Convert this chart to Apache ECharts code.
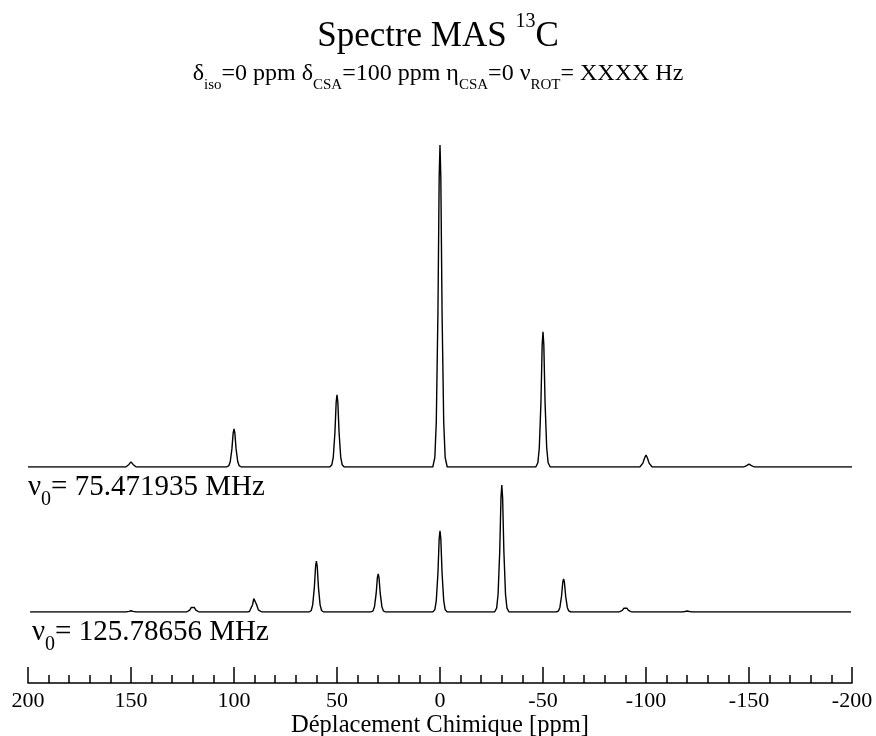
<!DOCTYPE html>
<html>
<head>
<meta charset="utf-8">
<script src="https://cdn.jsdelivr.net/npm/echarts@6/dist/echarts.min.js"></script>
<style>
  html, body { margin: 0; padding: 0; background: #fff; }
  #chart { width: 876px; height: 736px; }
</style>
</head>
<body>
<div id="chart"></div>
<script>
// spectrum at nu0 = 75.471935 MHz : [ppm, intensity %]
var topSpectrum = [
  [200, 0],
  [152.5, 0], [151, 0.8], [150, 1.6], [149, 0.8], [147.5, 0],
  [103.5, 0], [102.5, 0.4], [101.8, 1.7], [101, 5.7], [100.4, 10.6], [100, 11.8], [99.6, 10.6], [99, 5.7], [98.2, 1.7], [97.5, 0.4], [96.5, 0],
  [53.5, 0], [52.5, 0.7], [51.8, 3.1], [51, 10.8], [50.4, 20.2], [50, 22.4], [49.6, 20.2], [49, 10.8], [48.2, 3.1], [47.5, 0.7], [46.5, 0],
  [3.5, 0], [2.5, 3], [1.8, 14], [1, 48], [0.4, 90], [0, 100], [-0.4, 90], [-1, 48], [-1.8, 14], [-2.5, 3], [-3.5, 0],
  [-46.5, 0], [-47.5, 1.3], [-48.2, 5.9], [-49, 20], [-49.6, 38], [-50, 42], [-50.4, 38], [-51, 20], [-51.8, 5.9], [-52.5, 1.3], [-53.5, 0],
  [-97, 0], [-98.5, 1.2], [-99.3, 2.8], [-100, 3.7], [-100.7, 2.8], [-101.5, 1.2], [-103, 0],
  [-147.5, 0], [-149, 0.5], [-150, 0.9], [-151, 0.5], [-152.5, 0],
  [-200, 0]
];

// spectrum at nu0 = 125.78656 MHz
var bottomSpectrum = [
  [199, 0],
  [152.5, 0], [151, 0.5], [150, 1], [149, 0.5], [147.5, 0],
  [123, 0], [121.5, 1.5], [120.7, 3.6], [120, 4.7], [119.3, 3.6], [118.5, 1.5], [117, 0],
  [93.5, 0], [92.5, 0.4], [91.8, 1.7], [91, 5.7], [90.4, 10.6], [90, 11.8], [89.6, 10.6], [89, 5.7], [88.2, 1.7], [87.5, 0.4], [86.5, 0],
  [63.5, 0], [62.5, 1.2], [61.8, 5.6], [61, 19.2], [60.4, 36], [60, 40], [59.6, 36], [59, 19.2], [58.2, 5.6], [57.5, 1.2], [56.5, 0],
  [33.5, 0], [32.5, 0.9], [31.8, 4.2], [31, 14.4], [30.4, 27], [30, 30], [29.6, 27], [29, 14.4], [28.2, 4.2], [27.5, 0.9], [26.5, 0],
  [3.5, 0], [2.5, 1.9], [1.8, 9], [1, 30.7], [0.4, 57.6], [0, 64], [-0.4, 57.6], [-1, 30.7], [-1.8, 9], [-2.5, 1.9], [-3.5, 0],
  [-26.5, 0], [-27.5, 3], [-28.2, 14], [-29, 48], [-29.6, 90], [-30, 100], [-30.4, 90], [-31, 48], [-31.8, 14], [-32.5, 3], [-33.5, 0],
  [-56.5, 0], [-57.5, 0.8], [-58.2, 3.6], [-59, 12.5], [-59.6, 23.4], [-60, 26], [-60.4, 23.4], [-61, 12.5], [-61.8, 3.6], [-62.5, 0.8], [-63.5, 0],
  [-87, 0], [-88.5, 1.3], [-89.3, 3], [-90, 3.9], [-90.7, 3], [-91.5, 1.3], [-93, 0],
  [-117.5, 0], [-119, 0.4], [-120, 0.8], [-121, 0.4], [-122.5, 0],
  [-199.5, 0]
];

var xMin = -200;
var xMax = 200;
var tickStep = 50;

var serif = 'Liberation Serif';

function txt(size, lh, pad) {
  var s = { fontSize: size, fontFamily: serif, fontWeight: 'normal', color: '#000', lineHeight: lh };
  if (pad) s.padding = pad;
  return s;
}

var chartDom = document.getElementById('chart');
var myChart = echarts.init(chartDom);
var option;

option = {
  backgroundColor: '#fff',
  animation: false,
  title: [
    {
      text: '{m|Spectre MAS }{s|13}{m|C}',
      left: 'center',
      top: 17,
      padding: 0,
      textStyle: {
        fontWeight: 'normal',
        rich: { m: txt(35, 40), s: txt(20, 40, [0, 0, 30, 0]) }
      }
    },
    {
      text: '{m|δ}{s|iso}{m|=0 ppm δ}{s|CSA}{m|=100 ppm η}{s|CSA}{m|=0 ν}{s|ROT}{m|= XXXX Hz}',
      left: 'center',
      top: 59,
      padding: 0,
      textStyle: {
        fontWeight: 'normal',
        rich: { m: txt(24, 30), s: txt(15, 30, [23, 0, 0, 0]) }
      }
    },
    {
      text: '{m|ν}{s|0}{m|= 75.471935 MHz}',
      left: 28,
      top: 472,
      padding: 0,
      textStyle: {
        fontWeight: 'normal',
        rich: { m: txt(29, 30), s: txt(20, 30, [25, 0, 0, 0]) }
      }
    },
    {
      text: '{m|ν}{s|0}{m|= 125.78656 MHz}',
      left: 32,
      top: 617,
      padding: 0,
      textStyle: {
        fontWeight: 'normal',
        rich: { m: txt(29, 30), s: txt(20, 30, [25, 0, 0, 0]) }
      }
    }
  ],
  grid: [
    { left: 28, right: 24, top: 145, bottom: 269, outerBoundsMode: 'none' },
    { left: 28, right: 24, top: 485, bottom: 124, outerBoundsMode: 'none' }
  ],
  xAxis: [
    {
      gridIndex: 0,
      type: 'value',
      min: xMin,
      max: xMax,
      inverse: true,
      show: false
    },
    {
      gridIndex: 1,
      type: 'value',
      min: xMin,
      max: xMax,
      interval: tickStep,
      inverse: true,
      offset: 71,
      name: 'Déplacement Chimique [ppm]',
      nameLocation: 'middle',
      nameGap: 24,
      nameTextStyle: { fontSize: 24.5, fontFamily: serif, color: '#000' },
      axisLine: { show: true, onZero: false, lineStyle: { color: '#000', width: 1.5 } },
      axisTick: { show: true, inside: true, length: 16, lineStyle: { color: '#000', width: 1.5 } },
      minorTick: { show: true, splitNumber: 5, length: 8, lineStyle: { color: '#000', width: 1.5 } },
      axisLabel: {
        show: true,
        margin: 7,
        fontSize: 22,
        fontFamily: serif,
        color: '#000',
        showMinLabel: true,
        showMaxLabel: true
      },
      splitLine: { show: false }
    }
  ],
  yAxis: [
    { gridIndex: 0, type: 'value', min: 0, max: 100, show: false },
    { gridIndex: 1, type: 'value', min: 0, max: 100, show: false }
  ],
  series: [
    {
      name: '75.471935 MHz',
      type: 'line',
      xAxisIndex: 0,
      yAxisIndex: 0,
      showSymbol: false,
      lineStyle: { color: '#000', width: 1.4 },
      data: topSpectrum
    },
    {
      name: '125.78656 MHz',
      type: 'line',
      xAxisIndex: 1,
      yAxisIndex: 1,
      showSymbol: false,
      lineStyle: { color: '#000', width: 1.4 },
      data: bottomSpectrum
    }
  ]
};

option && myChart.setOption(option);
</script>
</body>
</html>
